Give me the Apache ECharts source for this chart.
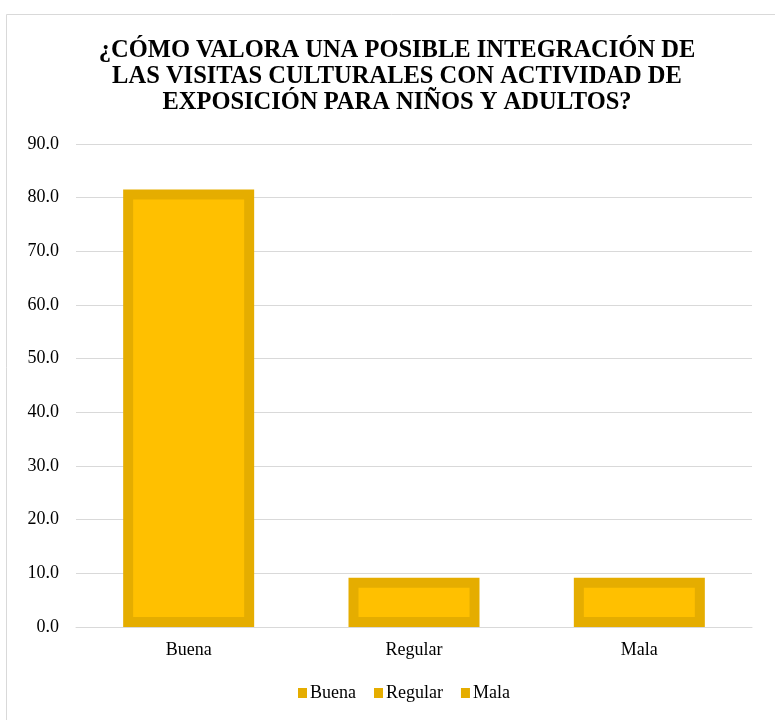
<!DOCTYPE html>
<html>
<head>
<meta charset="utf-8">
<script src="https://cdn.jsdelivr.net/npm/echarts@6/dist/echarts.min.js"></script>
<style>
  html, body { margin: 0; padding: 0; background: #fff; }
  #chart { width: 775px; height: 720px; }
  .warm { position: absolute; left: -9999px; top: 0; font-family: 'Liberation Serif', serif; }
</style>
</head>
<body>
<div class="warm">Buena <b>¿CÓMO</b></div>
<div id="chart"></div>
<script>
const categories = ['Buena', 'Regular', 'Mala']
const values = [81.5, 9.2, 9.2]

const serif = "'Liberation Serif', 'Times New Roman', serif"

// one series per category so the legend lists all three
const series = categories.map((name, i) => ({
  name,
  type: 'bar',
  stack: 'all',
  barWidth: 131,
  data: categories.map((_, j) => (j === i ? values[i] : '-')),
  itemStyle: { color: '#FFC000', borderColor: '#E5AD00', borderWidth: 10 }
}))

const option = {
  animation: false,
  graphic: [{
    type: 'rect',
    shape: { x: 6.5, y: 14.5, width: 800, height: 800 },
    style: { fill: 'none', stroke: '#D9D9D9', lineWidth: 1 },
    silent: true
  }],
  title: {
    text: '¿CÓMO VALORA UNA POSIBLE INTEGRACIÓN DE\nLAS VISITAS CULTURALES CON ACTIVIDAD DE\nEXPOSICIÓN PARA NIÑOS Y ADULTOS?',
    left: 392,
    textAlign: 'center',
    top: 33,
    textStyle: {
      fontFamily: serif,
      fontSize: 24.5,
      fontWeight: 'bold',
      color: '#000',
      lineHeight: 26
    }
  },
  grid: { left: 76, right: 23, top: 144, bottom: 93 },
  legend: {
    bottom: 13,
    left: 293,
    icon: 'rect',
    itemWidth: 9,
    itemHeight: 10,
    itemGap: 18,
    itemStyle: { color: '#E5AD00', borderWidth: 0 },
    textStyle: { fontFamily: serif, fontSize: 18, color: '#000', padding: [0, 0, 0, -2] },
    data: categories
  },
  xAxis: {
    type: 'category',
    data: categories,
    axisLine: { lineStyle: { color: '#D9D9D9' } },
    axisTick: { show: false },
    axisLabel: { fontFamily: serif, fontSize: 18, color: '#000', margin: 14 }
  },
  yAxis: {
    type: 'value',
    min: 0,
    max: 90,
    interval: 10,
    axisLine: { show: false },
    axisTick: { show: false },
    axisLabel: {
      fontFamily: serif, fontSize: 18, color: '#000', margin: 17,
      formatter: v => v.toFixed(1)
    },
    splitLine: { lineStyle: { color: '#D9D9D9', width: 1 } }
  },
  series
}

const render = () => {
  const chart = echarts.init(document.getElementById('chart'))
  chart.setOption(option)
}

// make sure the serif face is ready before canvas text is drawn
Promise.all([
  document.fonts.load("18px 'Liberation Serif'"),
  document.fonts.load("bold 24px 'Liberation Serif'")
]).then(render, render)
</script>
</body>
</html>
